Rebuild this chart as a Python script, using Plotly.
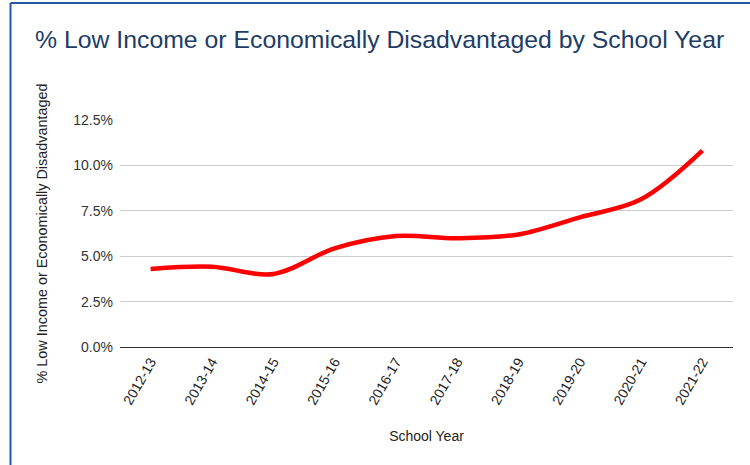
import plotly.graph_objects as go

# School years and share of students flagged low income / economically disadvantaged
school_years = ["2012-13", "2013-14", "2014-15", "2015-16", "2016-17",
                "2017-18", "2018-19", "2019-20", "2020-21", "2021-22"]
pct_low_income = [0.0430, 0.0442, 0.0402, 0.0543, 0.0611,
                  0.0599, 0.0620, 0.0714, 0.0813, 0.1081]
y_ticks = [0.0, 0.025, 0.05, 0.075, 0.10, 0.125]

FONT = "Liberation Sans, Arial, Helvetica, sans-serif"
W, H = 750, 465
L, R, T, B = 120, 17, 120, 118

fig = go.Figure()
fig.add_trace(go.Scatter(
    x=school_years,
    y=pct_low_income,
    mode="lines",
    line=dict(color="#ff0000", width=4.5, shape="spline", smoothing=1.0),
    hoverinfo="x+y",
))

# frame lines along the top and left edges of the card
pw, ph = W - L - R, H - T - B
def px_x(p):
    return (p - L) / pw
def px_y(p):
    return (H - B - p) / ph

border = "#2458a0"
fig.add_shape(type="line", xref="paper", yref="paper",
              x0=px_x(10.5), x1=px_x(W + 10), y0=px_y(3), y1=px_y(3),
              line=dict(color=border, width=2))
fig.add_shape(type="line", xref="paper", yref="paper",
              x0=px_x(10.5), x1=px_x(10.5), y0=px_y(3), y1=px_y(H + 10),
              line=dict(color=border, width=2))

fig.update_layout(
    width=W, height=H,
    margin=dict(l=L, r=R, t=T, b=B),
    paper_bgcolor="white",
    plot_bgcolor="white",
    showlegend=False,
    title=dict(
        text="% Low Income or Economically Disadvantaged by School Year",
        font=dict(family=FONT, size=24.8, color="#1d3d66"),
        x=35 / W, xanchor="left", xref="container",
        y=1 - 39.5 / H, yanchor="middle", yref="container",
    ),
    font=dict(family=FONT, color="#222222"),
    xaxis=dict(
        type="category",
        range=[-0.5, len(school_years) - 0.5],
        tickangle=-60,
        tickfont=dict(size=14, color="#222222"),
        showgrid=False,
        showline=False,
        zeroline=False,
        ticks="",
        ticklabelstandoff=3,
        title=dict(text="School Year", font=dict(size=14, color="#222222"), standoff=24),
    ),
    yaxis=dict(
        range=[0, 0.125],
        tickvals=y_ticks,
        tickformat=".1%",
        tickfont=dict(size=14, color="#333333"),
        showgrid=True,
        gridcolor="#cccccc",
        gridwidth=1,
        zeroline=True,
        zerolinecolor="#333333",
        zerolinewidth=1.2,
        ticks="",
        ticklabelstandoff=6,
        title=dict(text="% Low Income or Economically Disadvantaged",
                   font=dict(size=14.4, color="#222222"), standoff=22),
    ),
)

fig.write_html("out.html")
